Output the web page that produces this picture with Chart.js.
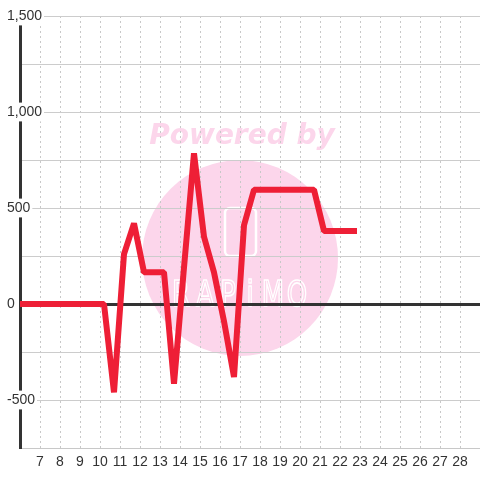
<!DOCTYPE html>
<html>
<head>
<meta charset="utf-8">
<script src="https://cdn.jsdelivr.net/npm/chart.js@4/dist/chart.umd.min.js"></script>
<style>
html,body{margin:0;padding:0;background:#ffffff;}
#wrap{width:480px;height:480px;}
</style>
</head>
<body>
<div id="wrap"><canvas id="c" width="480" height="480"></canvas></div>
<script>
// ---- data ----
const xTimes = [5.7, 6.2, 6.7, 7.2, 7.7, 8.2, 8.7, 9.2, 9.7, 10.2, 10.7, 11.2, 11.7, 12.2, 12.7, 13.2, 13.7, 14.2, 14.7, 15.2, 15.7, 16.2, 16.7, 17.2, 17.7, 18.2, 18.7, 19.2, 19.7, 20.2, 20.7, 21.2, 21.7, 22.2, 22.85];
const seriesValues = [0, 0, 0, 0, 0, 0, 0, 0, 0, 0, -460, 260, 420, 165, 165, 165, -415, 190, 785, 350, 165, -90, -380, 410, 595, 595, 595, 595, 595, 595, 595, 380, 380, 380, 380];
const xTickLabels = [7, 8, 9, 10, 11, 12, 13, 14, 15, 16, 17, 18, 19, 20, 21, 22, 23, 24, 25, 26, 27, 28];
const yTickValues = [-750, -500, -250, 0, 250, 500, 750, 1000, 1250, 1500];
const yLabelledValues = [-500, 0, 500, 1000, 1500];

const BG = '#ffffff';
const points = xTimes.map((x, i) => ({x: x, y: seriesValues[i]}));

const watermark = {
  id: 'watermark',
  beforeDraw(chart) {
    const ctx = chart.ctx;
    ctx.save();
    ctx.fillStyle = BG;
    ctx.fillRect(0, 0, chart.width, chart.height);
    ctx.fillStyle = '#fcd6eb';
    ctx.beginPath();
    ctx.arc(240, 258, 98, 0, Math.PI * 2);
    ctx.fill();
    ctx.font = 'italic bold 28px "DejaVu Sans"';
    ctx.textAlign = 'center';
    ctx.textBaseline = 'alphabetic';
    ctx.fillText('Powered by', 242, 144);
    ctx.strokeStyle = '#ffffff';
    ctx.lineWidth = 2.5;
    ctx.beginPath();
    ctx.roundRect(225, 208, 31, 48, 5);
    ctx.stroke();
    ctx.lineWidth = 1.6;
    ctx.font = '36px "DejaVu Sans"';
    const letters = ['R', 'A', 'P', 'i', 'M', 'O'];
    const lx = [181, 205, 228, 250, 273, 297];
    letters.forEach((ch, i) => {
      ctx.save();
      ctx.translate(lx[i], 306);
      ctx.scale(0.72, 1);
      ctx.strokeText(ch, 0, 0);
      ctx.restore();
    });
    ctx.restore();
  }
};

new Chart(document.getElementById('c'), {
  type: 'line',
  data: {
    datasets: [{
      data: points,
      borderColor: '#ee1f36',
      borderWidth: 6,
      pointRadius: 0,
      pointHoverRadius: 0,
      tension: 0,
      fill: false,
      borderJoinStyle: 'bevel',
      borderCapStyle: 'butt'
    }]
  },
  options: {
    responsive: false,
    animation: false,
    devicePixelRatio: 1,
    layout: { padding: { top: 16, left: 0, right: 0, bottom: 0 } },
    plugins: { legend: { display: false }, tooltip: { enabled: false } },
    scales: {
      x: {
        type: 'linear',
        min: 6,
        max: 29,
        afterBuildTicks(scale) { scale.ticks = xTickLabels.map(v => ({value: v})); },
        afterFit(scale) { scale.height = 32; },
        grid: { color: '#c8c8c8', lineWidth: 1, drawTicks: false },
        border: { color: '#c8c8c8', width: 1, dash: [2, 3] },
        ticks: {
          color: '#333333',
          font: { family: '"Liberation Sans", Arial, sans-serif', size: 14 },
          padding: 6,
          maxRotation: 0,
          autoSkip: false
        }
      },
      y: {
        type: 'linear',
        min: -750,
        max: 1500,
        afterBuildTicks(scale) { scale.ticks = yTickValues.map(v => ({value: v})); },
        afterFit(scale) { scale.width = 20; },
        grid: {
          drawTicks: false,
          color: c => (c.tick && c.tick.value === 0) ? '#333333' : '#cccccc',
          lineWidth: c => (c.tick && c.tick.value === 0) ? 3 : 1
        },
        border: { color: '#333333', width: 3 },
        ticks: {
          mirror: true,
          crossAlign: 'near',
          padding: -13,
          color: '#333333',
          font: { family: '"Liberation Sans", Arial, sans-serif', size: 14 },
          callback: v => yLabelledValues.includes(v) ? v.toLocaleString('en-US') : '',
          showLabelBackdrop: c => !!(c.tick && yLabelledValues.includes(c.tick.value)),
          backdropColor: BG,
          backdropPadding: { top: 1, bottom: 1, left: 1, right: 2 }
        }
      }
    }
  },
  plugins: [watermark]
});
</script>
</body>
</html>
